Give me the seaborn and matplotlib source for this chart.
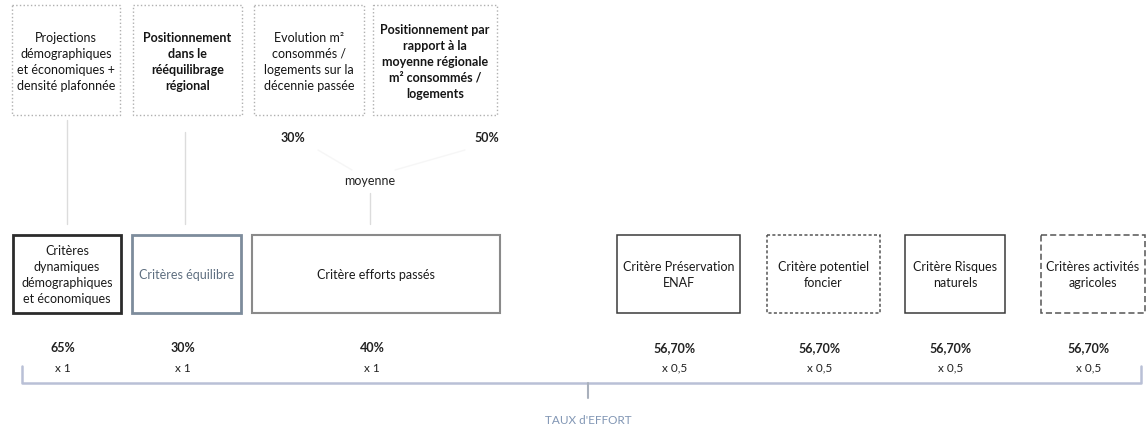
import matplotlib
matplotlib.use("Agg")
import matplotlib.pyplot as plt
from matplotlib.patches import Rectangle
import seaborn as sns

# ---------------- data ----------------
top_labels = [
    "Projections\ndémographiques\net économiques +\ndensité plafonnée",
    "Positionnement\ndans le\nrééquilibrage\nrégional",
    "Evolution m²\nconsommés /\nlogements sur la\ndécennie passée",
    "Positionnement par\nrapport à la\nmoyenne régionale\nm² consommés /\nlogements",
]
sub_weights = [30, 50]          # weights of the two past-effort sub criteria
sub_label = "moyenne"
criteria = [
    "Critères\ndynamiques\ndémographiques\net économiques",
    "Critères équilibre",
    "Critère efforts passés",
    "Critère Préservation\nENAF",
    "Critère potentiel\nfoncier",
    "Critère Risques\nnaturels",
    "Critères activités\nagricoles",
]
criteria_pct = [65, 30, 40, 56.70, 56.70, 56.70, 56.70]
criteria_mult = [1, 1, 1, 0.5, 0.5, 0.5, 0.5]
total_label = "TAUX d'EFFORT"

# ---------------- layout (pixels) ----------------
W, H = 1147, 429
top_x = [(12, 120), (133, 242), (254, 364), (373, 497)]
top_y = (5, 115)
top_weights = ["normal", "bold", "normal", "bold"]
bot_x = [(13, 121), (132, 241), (252, 500), (617, 740), (767, 880), (905, 1005), (1041, 1145)]
bot_y = (235, 313)
bot_styles = [
    dict(ec="#2b2b2b", lw=2.0, ls="-"),
    dict(ec="#7d8c9c", lw=2.0, ls="-"),
    dict(ec="#8a8a8a", lw=1.5, ls="-"),
    dict(ec="#3a3a3a", lw=1.1, ls="-"),
    dict(ec="#555555", lw=1.1, ls=(0, (2, 1.5))),
    dict(ec="#3a3a3a", lw=1.1, ls="-"),
    dict(ec="#555555", lw=1.1, ls=(0, (4, 2))),
]
bot_text_colors = ["#1a1a1a", "#5f6f80", "#1a1a1a", "#1a1a1a", "#1a1a1a", "#1a1a1a", "#1a1a1a"]

sns.set_theme(style="white")
plt.rcParams["font.family"] = ["Lato", "DejaVu Sans"]

fig = plt.figure(figsize=(W / 100, H / 100), dpi=100)
ax = fig.add_axes([0, 0, 1, 1])
ax.set_xlim(0, W)
ax.set_ylim(H, 0)
ax.axis("off")

fs = 9.0

def fmt_pct(v):
    if float(v).is_integer():
        return f"{int(v)}%"
    return f"{v:.2f}".replace(".", ",") + "%"

def fmt_mult(m):
    if float(m).is_integer():
        return f"x {int(m)}"
    return "x " + f"{m}".replace(".", ",")

# top boxes
for (x0, x1), lab, wt in zip(top_x, top_labels, top_weights):
    ax.add_patch(Rectangle((x0, top_y[0]), x1 - x0, top_y[1] - top_y[0],
                           fill=False, ec="#b0b0b0", lw=1.0, ls=":"))
    ax.text((x0 + x1) / 2, (top_y[0] + top_y[1]) / 2 + 2, lab, ha="center", va="center",
            fontsize=fs, color="#151515", linespacing=1.4, fontweight=wt)

# connectors
line_c = "#dcdcdc"
ax.plot([67, 67], [120, 224], color=line_c, lw=1)
ax.plot([185, 185], [132, 224], color=line_c, lw=1)
ax.plot([370, 370], [193, 224], color=line_c, lw=1)
ax.plot([318, 352], [150, 170], color="#f6f6f6", lw=1)
ax.plot([465, 395], [150, 170], color="#f6f6f6", lw=1)

# sub weights
for xc, v in zip([293, 487], sub_weights):
    ax.text(xc, 138, fmt_pct(v), ha="center", va="center", fontsize=fs,
            color="#222222", fontweight="bold")
ax.text(370, 181, sub_label, ha="center", va="center", fontsize=fs, color="#222222")

# bottom criteria boxes
for (x0, x1), lab, st, tc, p, m in zip(bot_x, criteria, bot_styles, bot_text_colors,
                                       criteria_pct, criteria_mult):
    ax.add_patch(Rectangle((x0, bot_y[0]), x1 - x0, bot_y[1] - bot_y[0],
                           fill=False, **st))
    xc = (x0 + x1) / 2
    ax.text(xc, (bot_y[0] + bot_y[1]) / 2 + 1, lab, ha="center", va="center",
            fontsize=fs, color=tc, linespacing=1.4)
    ax.text(xc - 4, 348, fmt_pct(p), ha="center", va="center", fontsize=fs,
            color="#222222", fontweight="bold")
    ax.text(xc - 4, 368, fmt_mult(m), ha="center", va="center", fontsize=fs - 0.5,
            color="#222222")

# bracket
bc = "#b9c0d6"
ax.plot([22, 22, 1141, 1141], [366, 383, 383, 366], color=bc, lw=1.8,
        solid_joinstyle="round")
ax.plot([588, 588], [383, 398], color="#a9b0bc", lw=1.5)
ax.text(588, 421, total_label, ha="center", va="center", fontsize=fs - 0.5,
        color="#8196b4")

fig.savefig("out.png", dpi=100)
